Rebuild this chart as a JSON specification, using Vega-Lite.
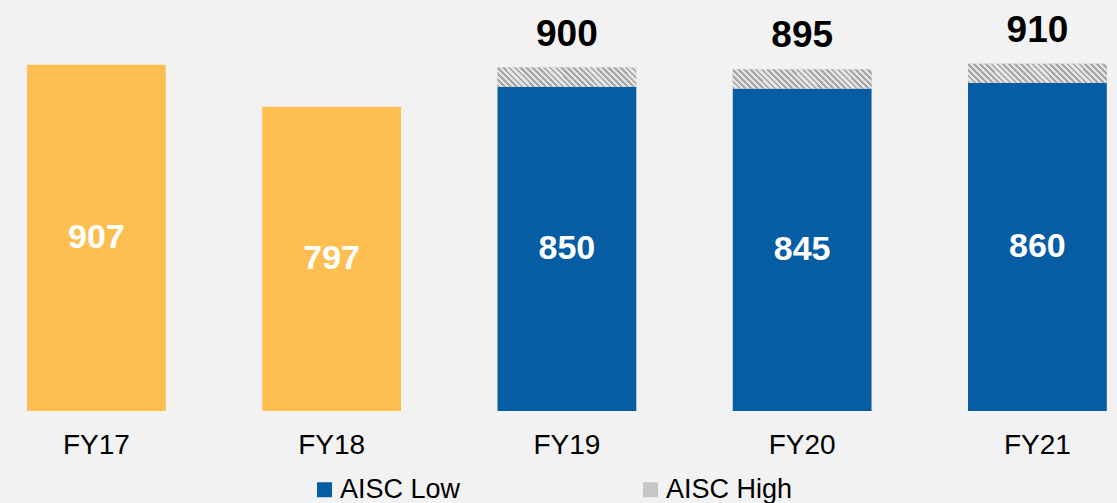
{
  "$schema": "https://vega.github.io/schema/vega-lite/v6.json",
  "width": 1117,
  "height": 411,
  "autosize": {"type": "none"},
  "padding": {"left": 0, "top": 0, "right": 0, "bottom": 92},
  "background": "#f2f2f2",
  "config": {"view": {"stroke": null}, "font": "Liberation Sans"},
  "data": {
    "values": [
      {"fy": "FY17", "series": "Actual", "value": 907},
      {"fy": "FY18", "series": "Actual", "value": 797},
      {"fy": "FY19", "series": "AISC Low", "value": 850},
      {"fy": "FY19", "series": "AISC High", "value": 50},
      {"fy": "FY20", "series": "AISC Low", "value": 845},
      {"fy": "FY20", "series": "AISC High", "value": 50},
      {"fy": "FY21", "series": "AISC Low", "value": 860},
      {"fy": "FY21", "series": "AISC High", "value": 50}
    ]
  },
  "encoding": {
    "x": {
      "field": "fy",
      "type": "nominal",
      "sort": null,
      "scale": {"paddingInner": 0.41, "paddingOuter": 0.079, "align": 0.726},
      "axis": {
        "title": null,
        "labelAngle": 0,
        "domain": false,
        "ticks": false,
        "grid": false,
        "labelFontSize": 28,
        "labelFont": "Liberation Sans",
        "labelColor": "#000000",
        "labelPadding": 20
      }
    }
  },
  "layer": [
    {
      "mark": {"type": "bar"},
      "encoding": {
        "y": {
          "field": "value",
          "type": "quantitative",
          "stack": "zero",
          "scale": {"domain": [0, 1077], "nice": false},
          "axis": null
        },
        "color": {
          "field": "series",
          "type": "nominal",
          "scale": {
            "domain": ["Actual", "AISC Low", "AISC High"],
            "range": ["#FFBE50", "#065DA3", "#c6c6c6"]
          },
          "legend": {
            "title": null,
            "orient": "none",
            "legendX": 311,
            "legendY": 476,
            "direction": "horizontal",
            "values": ["AISC Low", "AISC High"],
            "symbolType": "square",
            "symbolSize": 225,
            "symbolStrokeWidth": 0,
            "labelFontSize": 27,
            "labelFont": "Liberation Sans",
            "labelColor": "#000000",
            "labelOffset": 2,
            "columnPadding": 176,
            "padding": 0
          }
        },
        "order": {"field": "series", "sort": "descending"}
      }
    },
    {
      "mark": {
        "type": "bar",
        "fill": {
          "gradient": "linear",
          "x1": 0, "y1": 1, "x2": 1.2, "y2": 0.836,
          "stops": [
            {"offset": 0, "color": "#a6a6a6"}, {"offset": 0.0155, "color": "#a6a6a6"}, {"offset": 0.0155, "color": "#e4e4e4"}, {"offset": 0.0345, "color": "#e4e4e4"},
            {"offset": 0.0345, "color": "#a6a6a6"}, {"offset": 0.0500, "color": "#a6a6a6"}, {"offset": 0.0500, "color": "#e4e4e4"}, {"offset": 0.0690, "color": "#e4e4e4"},
            {"offset": 0.0690, "color": "#a6a6a6"}, {"offset": 0.0845, "color": "#a6a6a6"}, {"offset": 0.0845, "color": "#e4e4e4"}, {"offset": 0.1034, "color": "#e4e4e4"},
            {"offset": 0.1034, "color": "#a6a6a6"}, {"offset": 0.1190, "color": "#a6a6a6"}, {"offset": 0.1190, "color": "#e4e4e4"}, {"offset": 0.1379, "color": "#e4e4e4"},
            {"offset": 0.1379, "color": "#a6a6a6"}, {"offset": 0.1534, "color": "#a6a6a6"}, {"offset": 0.1534, "color": "#e4e4e4"}, {"offset": 0.1724, "color": "#e4e4e4"},
            {"offset": 0.1724, "color": "#a6a6a6"}, {"offset": 0.1879, "color": "#a6a6a6"}, {"offset": 0.1879, "color": "#e4e4e4"}, {"offset": 0.2069, "color": "#e4e4e4"},
            {"offset": 0.2069, "color": "#a6a6a6"}, {"offset": 0.2224, "color": "#a6a6a6"}, {"offset": 0.2224, "color": "#e4e4e4"}, {"offset": 0.2414, "color": "#e4e4e4"},
            {"offset": 0.2414, "color": "#a6a6a6"}, {"offset": 0.2569, "color": "#a6a6a6"}, {"offset": 0.2569, "color": "#e4e4e4"}, {"offset": 0.2759, "color": "#e4e4e4"},
            {"offset": 0.2759, "color": "#a6a6a6"}, {"offset": 0.2914, "color": "#a6a6a6"}, {"offset": 0.2914, "color": "#e4e4e4"}, {"offset": 0.3103, "color": "#e4e4e4"},
            {"offset": 0.3103, "color": "#a6a6a6"}, {"offset": 0.3259, "color": "#a6a6a6"}, {"offset": 0.3259, "color": "#e4e4e4"}, {"offset": 0.3448, "color": "#e4e4e4"},
            {"offset": 0.3448, "color": "#a6a6a6"}, {"offset": 0.3603, "color": "#a6a6a6"}, {"offset": 0.3603, "color": "#e4e4e4"}, {"offset": 0.3793, "color": "#e4e4e4"},
            {"offset": 0.3793, "color": "#a6a6a6"}, {"offset": 0.3948, "color": "#a6a6a6"}, {"offset": 0.3948, "color": "#e4e4e4"}, {"offset": 0.4138, "color": "#e4e4e4"},
            {"offset": 0.4138, "color": "#a6a6a6"}, {"offset": 0.4293, "color": "#a6a6a6"}, {"offset": 0.4293, "color": "#e4e4e4"}, {"offset": 0.4483, "color": "#e4e4e4"},
            {"offset": 0.4483, "color": "#a6a6a6"}, {"offset": 0.4638, "color": "#a6a6a6"}, {"offset": 0.4638, "color": "#e4e4e4"}, {"offset": 0.4828, "color": "#e4e4e4"},
            {"offset": 0.4828, "color": "#a6a6a6"}, {"offset": 0.4983, "color": "#a6a6a6"}, {"offset": 0.4983, "color": "#e4e4e4"}, {"offset": 0.5172, "color": "#e4e4e4"},
            {"offset": 0.5172, "color": "#a6a6a6"}, {"offset": 0.5328, "color": "#a6a6a6"}, {"offset": 0.5328, "color": "#e4e4e4"}, {"offset": 0.5517, "color": "#e4e4e4"},
            {"offset": 0.5517, "color": "#a6a6a6"}, {"offset": 0.5672, "color": "#a6a6a6"}, {"offset": 0.5672, "color": "#e4e4e4"}, {"offset": 0.5862, "color": "#e4e4e4"},
            {"offset": 0.5862, "color": "#a6a6a6"}, {"offset": 0.6017, "color": "#a6a6a6"}, {"offset": 0.6017, "color": "#e4e4e4"}, {"offset": 0.6207, "color": "#e4e4e4"},
            {"offset": 0.6207, "color": "#a6a6a6"}, {"offset": 0.6362, "color": "#a6a6a6"}, {"offset": 0.6362, "color": "#e4e4e4"}, {"offset": 0.6552, "color": "#e4e4e4"},
            {"offset": 0.6552, "color": "#a6a6a6"}, {"offset": 0.6707, "color": "#a6a6a6"}, {"offset": 0.6707, "color": "#e4e4e4"}, {"offset": 0.6897, "color": "#e4e4e4"},
            {"offset": 0.6897, "color": "#a6a6a6"}, {"offset": 0.7052, "color": "#a6a6a6"}, {"offset": 0.7052, "color": "#e4e4e4"}, {"offset": 0.7241, "color": "#e4e4e4"},
            {"offset": 0.7241, "color": "#a6a6a6"}, {"offset": 0.7397, "color": "#a6a6a6"}, {"offset": 0.7397, "color": "#e4e4e4"}, {"offset": 0.7586, "color": "#e4e4e4"},
            {"offset": 0.7586, "color": "#a6a6a6"}, {"offset": 0.7741, "color": "#a6a6a6"}, {"offset": 0.7741, "color": "#e4e4e4"}, {"offset": 0.7931, "color": "#e4e4e4"},
            {"offset": 0.7931, "color": "#a6a6a6"}, {"offset": 0.8086, "color": "#a6a6a6"}, {"offset": 0.8086, "color": "#e4e4e4"}, {"offset": 0.8276, "color": "#e4e4e4"},
            {"offset": 0.8276, "color": "#a6a6a6"}, {"offset": 0.8431, "color": "#a6a6a6"}, {"offset": 0.8431, "color": "#e4e4e4"}, {"offset": 0.8621, "color": "#e4e4e4"},
            {"offset": 0.8621, "color": "#a6a6a6"}, {"offset": 0.8776, "color": "#a6a6a6"}, {"offset": 0.8776, "color": "#e4e4e4"}, {"offset": 0.8966, "color": "#e4e4e4"},
            {"offset": 0.8966, "color": "#a6a6a6"}, {"offset": 0.9121, "color": "#a6a6a6"}, {"offset": 0.9121, "color": "#e4e4e4"}, {"offset": 0.9310, "color": "#e4e4e4"},
            {"offset": 0.9310, "color": "#a6a6a6"}, {"offset": 0.9466, "color": "#a6a6a6"}, {"offset": 0.9466, "color": "#e4e4e4"}, {"offset": 0.9655, "color": "#e4e4e4"},
            {"offset": 0.9655, "color": "#a6a6a6"}, {"offset": 0.9810, "color": "#a6a6a6"}, {"offset": 0.9810, "color": "#e4e4e4"}, {"offset": 1, "color": "#e4e4e4"}
          ]
        }
      },
      "encoding": {
        "y": {"field": "value", "type": "quantitative", "stack": "zero"},
        "detail": {"field": "series"},
        "order": {"field": "series", "sort": "descending"},
        "fillOpacity": {
          "condition": {"test": "datum.series === 'AISC High'", "value": 1},
          "value": 0
        }
      }
    },
    {
      "transform": [
        {"filter": "datum.series !== 'AISC High'"},
        {"calculate": "datum.value / 2", "as": "mid"}
      ],
      "mark": {"type": "text", "fontSize": 34, "fontWeight": "bold", "color": "#ffffff", "baseline": "middle", "font": "Liberation Sans"},
      "encoding": {
        "y": {"field": "mid", "type": "quantitative"},
        "text": {"field": "value", "type": "quantitative"}
      }
    },
    {
      "transform": [
        {"joinaggregate": [{"op": "sum", "field": "value", "as": "total"}], "groupby": ["fy"]},
        {"filter": "datum.series === 'AISC High'"}
      ],
      "mark": {"type": "text", "fontSize": 37, "fontWeight": "bold", "color": "#000000", "baseline": "middle", "dy": -33, "font": "Liberation Sans"},
      "encoding": {
        "y": {"field": "total", "type": "quantitative"},
        "text": {"field": "total", "type": "quantitative"}
      }
    }
  ]
}
